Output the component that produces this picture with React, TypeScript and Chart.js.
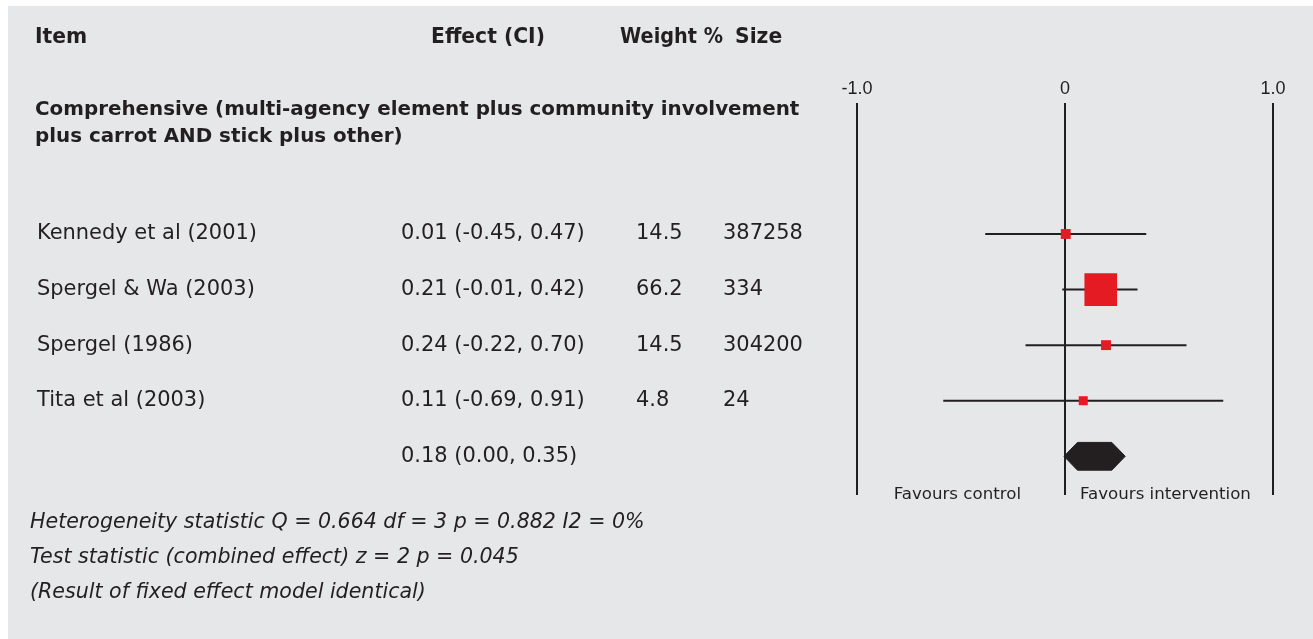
import React, { useEffect, useRef } from 'react';
import { Chart, registerables } from 'chart.js';

Chart.register(...registerables);

// ---------- data ----------
const studyNames = ['Kennedy et al (2001)', 'Spergel & Wa (2003)', 'Spergel (1986)', 'Tita et al (2003)'];
const effects = [0.01, 0.21, 0.24, 0.11];
const lowerCI = [-0.45, -0.01, -0.22, -0.69];
const upperCI = [0.47, 0.42, 0.7, 0.91];
const weights = [14.5, 66.2, 14.5, 4.8];
const sampleSizes = [387258, 334, 304200, 24];
const pooled = { effect: 0.18, lower: 0.0, upper: 0.35 };
const axisTickValues = [-1, 0, 1];
const axisTickLabels = ['-1.0', '0', '1.0'];

const headerItem = 'Item';
const headerEffect = 'Effect (CI)';
const headerWeight = 'Weight %';
const headerSize = 'Size';
const groupTitle = [
  'Comprehensive (multi-agency element plus community involvement',
  'plus carrot AND stick plus other)',
];
const footnotes = [
  'Heterogeneity statistic Q = 0.664 df = 3 p = 0.882 I2 = 0%',
  'Test statistic (combined effect) z = 2 p = 0.045',
  '(Result of fixed effect model identical)',
];
const favoursLeft = 'Favours control';
const favoursRight = 'Favours intervention';

// ---------- styles ----------
const W = 1313;
const H = 639;
const BG = '#e6e7e8';
const INK = '#231f20';
const RED = '#e41b23';
const FONT = '"DejaVu Sans", Verdana, sans-serif';
const AXIS_FONT = '"Liberation Sans", Arial, sans-serif';

const fmt = (v: number) => v.toFixed(2);
const squareSide = (w: number) => Math.max(9, 0.44 * w + 3.5);

// pick a font size so that `text` spans `target` pixels
function fitFont(ctx: CanvasRenderingContext2D, style: string, text: string, target: number) {
  ctx.font = `${style} 20px ${FONT}`;
  const w = ctx.measureText(text).width || 1;
  const size = (20 * target) / w;
  return `${style} ${size.toFixed(2)}px ${FONT}`;
}

export default function App() {
  const ref = useRef<HTMLCanvasElement | null>(null);

  useEffect(() => {
    const canvas = ref.current;
    if (!canvas) return;

    const rowIdx = studyNames.map((_, i) => i);
    const pooledRow = studyNames.length;

    const ciDatasets = rowIdx.map((i) => ({
      type: 'line' as const,
      data: [
        { x: lowerCI[i], y: i },
        { x: upperCI[i], y: i },
      ],
      borderColor: INK,
      borderWidth: 2,
      pointRadius: 0,
      fill: false,
      xAxisID: 'x',
      yAxisID: 'y',
      order: 2,
    }));

    const shoulder = (pooled.upper - pooled.lower) * 0.22;
    const hh = 0.25;
    const diamond = [
      { x: pooled.lower, y: pooledRow },
      { x: pooled.lower + shoulder, y: pooledRow - hh },
      { x: pooled.upper - shoulder, y: pooledRow - hh },
      { x: pooled.upper, y: pooledRow },
      { x: pooled.upper - shoulder, y: pooledRow + hh },
      { x: pooled.lower + shoulder, y: pooledRow + hh },
      { x: pooled.lower, y: pooledRow },
    ];

    const bgPlugin = {
      id: 'bg',
      beforeDraw(chart: any) {
        const ctx = chart.ctx;
        ctx.save();
        ctx.fillStyle = BG;
        ctx.fillRect(8, 6, W - 8, H - 6);
        ctx.restore();
      },
    };

    const textPlugin = {
      id: 'tableText',
      afterDraw(chart: any) {
        const ctx = chart.ctx as CanvasRenderingContext2D;
        const y = chart.scales.y;
        ctx.save();
        ctx.fillStyle = INK;
        ctx.textBaseline = 'middle';
        ctx.textAlign = 'left';

        ctx.font = fitFont(ctx, 'bold', headerEffect, 114);
        ctx.fillText(headerItem, 35, 38);
        ctx.fillText(headerEffect, 431, 38);
        ctx.fillText(headerWeight, 620, 38, 103);
        ctx.fillText(headerSize, 735, 38);

        ctx.font = fitFont(ctx, 'bold', groupTitle[0], 765);
        ctx.fillText(groupTitle[0], 35, 110);
        ctx.fillText(groupTitle[1], 35, 137);

        ctx.font = fitFont(ctx, 'normal', studyNames[0], 220);
        rowIdx.forEach((i) => {
          const py = y.getPixelForValue(i);
          ctx.fillText(studyNames[i], 37, py);
          ctx.fillText(`${fmt(effects[i])} (${fmt(lowerCI[i])}, ${fmt(upperCI[i])})`, 401, py);
          ctx.fillText(weights[i].toFixed(1), 636, py);
          ctx.fillText(String(sampleSizes[i]), 723, py);
        });
        const pp = y.getPixelForValue(pooledRow);
        ctx.fillText(`${fmt(pooled.effect)} (${fmt(pooled.lower)}, ${fmt(pooled.upper)})`, 401, pp);

        ctx.font = fitFont(ctx, 'italic', footnotes[0], 615);
        footnotes.forEach((t, k) => ctx.fillText(t, 30, 523 + k * 35));

        ctx.font = fitFont(ctx, 'normal', favoursRight, 171);
        ctx.textAlign = 'right';
        ctx.fillText(favoursLeft, 1021, 495);
        ctx.textAlign = 'left';
        ctx.fillText(favoursRight, 1080, 495);
        ctx.restore();
      },
    };

    const chart = new Chart(canvas, {
      type: 'scatter',
      data: {
        datasets: [
          ...ciDatasets,
          {
            type: 'scatter' as const,
            data: rowIdx.map((i) => ({ x: effects[i], y: i })),
            pointStyle: 'rect',
            pointRadius: weights.map((w) => squareSide(w) / Math.SQRT2),
            pointBackgroundColor: RED,
            pointBorderWidth: 0,
            xAxisID: 'x',
            yAxisID: 'y',
            order: 1,
          },
          {
            type: 'line' as const,
            data: diamond,
            borderColor: INK,
            borderWidth: 1,
            backgroundColor: INK,
            pointRadius: 0,
            fill: 'shape',
            tension: 0,
            xAxisID: 'x',
            yAxisID: 'y',
            order: 1,
          },
        ] as any,
      },
      plugins: [bgPlugin, textPlugin],
      options: {
        responsive: false,
        animation: false,
        events: [],
        layout: { padding: { left: 857, right: W - 1273, top: 75.4, bottom: H - 495 } },
        plugins: { legend: { display: false }, tooltip: { enabled: false } },
        scales: {
          x: {
            type: 'linear',
            display: false,
            min: -(1064 - 857) / 175,
            max: (1273 - 1064) / 175,
          },
          xt: {
            type: 'linear',
            position: 'top',
            min: axisTickValues[0],
            max: axisTickValues[axisTickValues.length - 1],
            afterBuildTicks: (scale: any) => {
              scale.ticks = axisTickValues.map((v) => ({ value: v }));
            },
            ticks: {
              autoSkip: false,
              maxRotation: 0,
              padding: 3,
              color: INK,
              font: { family: AXIS_FONT, size: 18 },
              callback: (v: any) => {
                const k = axisTickValues.indexOf(Number(v));
                return k >= 0 ? axisTickLabels[k] : '';
              },
            },
            grid: { color: INK, lineWidth: 2, drawTicks: false },
            border: { display: false },
          },
          y: {
            type: 'linear',
            display: false,
            reverse: true,
            min: (100 - 232) / 56,
            max: (495 - 232) / 56,
          },
        },
      } as any,
    });

    return () => chart.destroy();
  }, []);

  return (
    <canvas
      ref={ref}
      width={W}
      height={H}
      style={{ position: 'absolute', left: 0, top: 0, width: W, height: H, display: 'block' }}
    />
  );
}
